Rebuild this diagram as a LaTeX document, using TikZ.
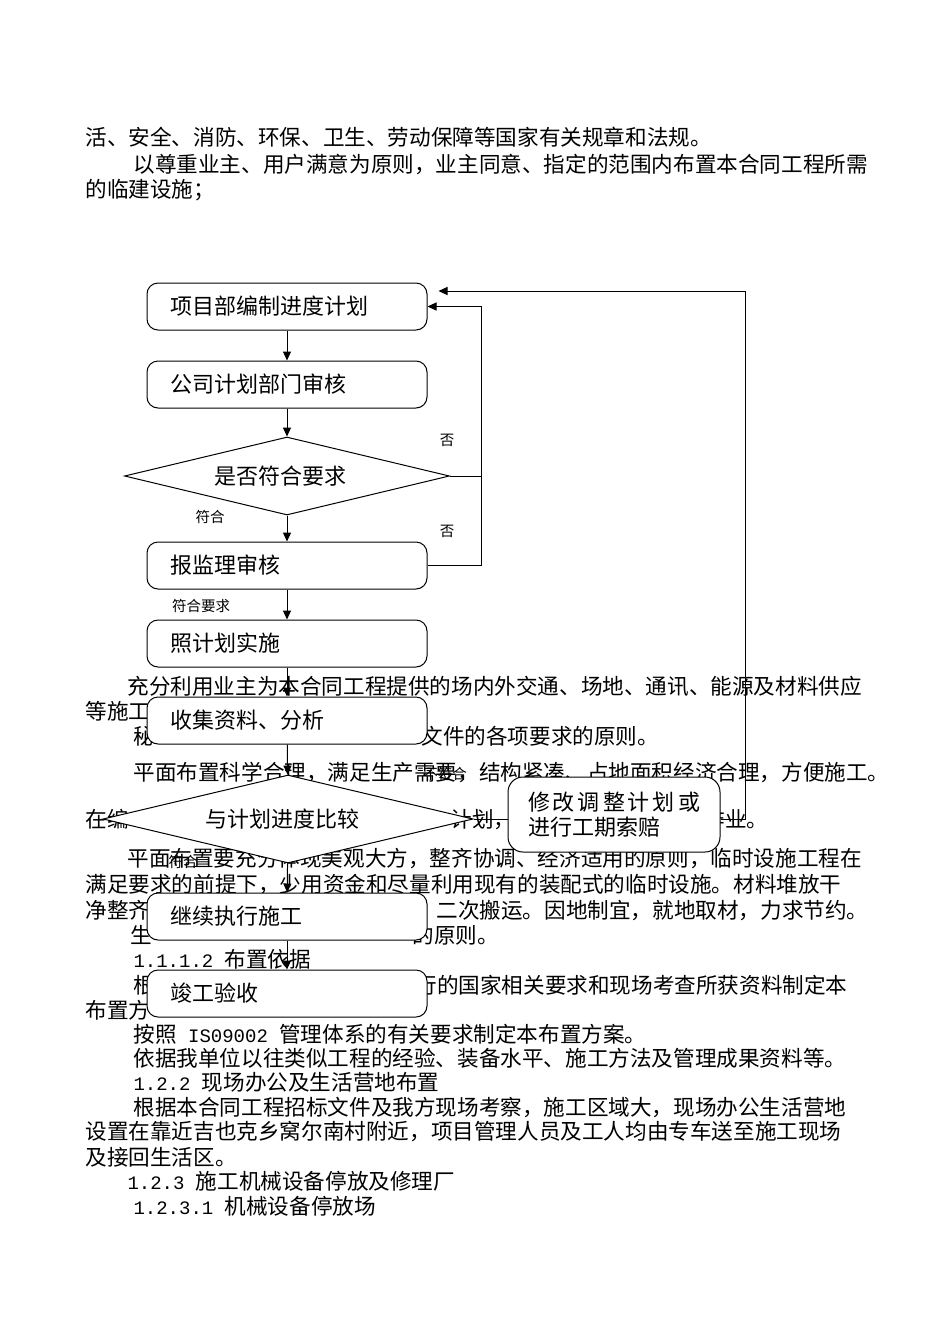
\documentclass[tikz,border=0pt]{standalone}
\usepackage{fontspec}
\usepackage{tikz}
\usetikzlibrary{shapes.geometric,arrows.meta}
\newfontfamily\cjk{Noto Sans CJK SC}
\newfontfamily\asciifont{Liberation Mono}
\newcommand\bodyfont{\cjk\fontsize{21.6}{26}\selectfont}
\newcommand\boxfont{\cjk\fontsize{22}{25}\selectfont}
\newcommand\tagfont{\cjk\fontsize{14.5}{16}\selectfont}
\newcommand\halfw[1]{{\asciifont\fontsize{19}{26}\selectfont #1}}

\begin{document}
\begin{tikzpicture}[x=1pt,y=-1pt,line width=1pt,>={Triangle[length=9pt,width=8pt]},
 body/.style={anchor=west,inner sep=0pt,text height=19pt,text depth=2.6pt,font=\bodyfont},
 box/.style={draw,fill=white,rounded corners=11pt,minimum width=280pt,minimum height=47pt,
  text width=234pt,inner xsep=23pt,inner ysep=0pt,align=left,font=\boxfont},
 decision/.style={draw,fill=white,shape=diamond,inner sep=0pt,aspect=4.2,font=\boxfont},
 tag/.style={inner sep=0pt,font=\tagfont}]
 \useasboundingbox (0,0) rectangle (950,1344);
 \fill[white] (0,0) rectangle (950,1344);
 % page text behind the chart
 \node[body] (t1) at (85,137) {活、安全、消防、环保、卫生、劳动保障等国家有关规章和法规。};
 \node[body] (t2) at (133,164) {以尊重业主、用户满意为原则，业主同意、指定的范围内布置本合同工程所需};
 \node[body] (t3) at (85,189) {的临建设施；};
 \node[body] (t4) at (127,686) {充分利用业主为本合同工程提供的场内外交通、场地、通讯、能源及材料供应};
 \node[body] (t5) at (85,711) {等施工};
 \node[body] (t6a) at (133,736) {秘};
 \node[body] (t6b) at (421,736) {文件的各项要求的原则。};
 \node[body] (t7) at (133,772) {平面布置科学合理，满足生产需要，结构紧凑、占地面积经济合理，方便施工。};
 \node[body] (t8a) at (85,819) {在编};
 \node[body] (t8b) at (450,819) {计划，};
 \node[body] (t8c) at (703,819) {作业。};
 \node[body] (t9) at (127,858) {平面布置要充分体现美观大方，整齐协调、经济适用的原则，临时设施工程在};
 \node[body] (t10) at (85,884) {满足要求的前提下，少用资金和尽量利用现有的装配式的临时设施。材料堆放干};
 \node[body] (t11a) at (85,910) {净整齐};
 \node[body] (t11b) at (436,910) {二次搬运。因地制宜，就地取材，力求节约。};
 \node[body] (t12a) at (130,935) {生};
 \node[body] (t12b) at (412,935) {的原则。};
 \node[body] (t13) at (133,959) {\halfw{1.1.1.2~}布置依据};
 \node[body] (t14a) at (133,985) {根};
 \node[body] (t14b) at (415,985) {行的国家相关要求和现场考查所获资料制定本};
 \node[body] (t15) at (85,1010) {布置方};
 \node[body] (t16) at (133,1034) {按照\halfw{~IS09002~}管理体系的有关要求制定本布置方案。};
 \node[body] (t17) at (133,1058) {依据我单位以往类似工程的经验、装备水平、施工方法及管理成果资料等。};
 \node[body] (t18) at (133,1082) {\halfw{1.2.2~}现场办公及生活营地布置};
 \node[body] (t19) at (133,1107) {根据本合同工程招标文件及我方现场考察，施工区域大，现场办公生活营地};
 \node[body] (t20) at (85,1131) {设置在靠近吉也克乡窝尔南村附近，项目管理人员及工人均由专车送至施工现场};
 \node[body] (t21) at (85,1157) {及接回生活区。};
 \node[body] (t22) at (127,1181) {\halfw{1.2.3~}施工机械设备停放及修理厂};
 \node[body] (t23) at (133,1206) {\halfw{1.2.3.1~}机械设备停放场};
 % flow chart
 \node[box] (plan) at (287,306.5) {项目部编制进度计划};
 \node[box] (check) at (287,384.5) {公司计划部门审核};
 \node[decision,minimum width=325pt,minimum height=78pt] (meet) at (287,476)
  {\hspace*{-14pt}是否符合要求};
 \node[box] (super) at (287,565.5) {报监理审核};
 \node[box] (exec) at (287,643.5) {照计划实施};
 \node[box] (collect) at (287,720.5) {收集资料、分析};
 \node[decision,minimum width=370pt,minimum height=88pt] (compare) at (288,819)
  {\hspace*{-12pt}与计划进度比较};
 \node[box,rounded corners=15pt,minimum width=212pt,minimum height=75pt,text width=172pt,
  inner xsep=20pt] (revise) at (614,814.5)
  {修\kern3pt改\kern3pt调\kern3pt整\kern3pt计\kern3pt划\kern3pt或\\进行工期索赔};
 \node[box] (carry) at (287,916.5) {继续执行施工};
 \node[box] (accept) at (287,993.5) {竣工验收};
 \coordinate (loop) at (745,291);
 \draw[->] (plan) -- (check);
 \draw[->] (check) -- (meet);
 \draw[->] (meet) -- (super);
 \draw[->] (super) -- (exec);
 \draw[->] (exec) -- (collect);
 \draw[->] (collect) -- (compare);
 \draw[->] (compare) -- (carry);
 \draw[->] (carry) -- (accept);
 \draw[->] (meet.east) -| ([xshift=54pt]plan.east) -- (plan.east);
 \draw (super.east) -| ([xshift=54pt]plan.east);
 \draw (compare.east) -- (compare.east -| revise.west);
 \draw[->,shorten >=11pt] (compare.east -| revise.east) -| (loop) -- (plan.east |- loop);
 \node[tag] (no1) at (447,440) {否};
 \node[tag] (no2) at (447,531) {否};
 \node[tag] (yes1) at (210,517) {符合};
 \node[tag] (yes2) at (201,606) {符合要求};
 \node[tag] (no3) at (445,774) {不符合};
 \node[tag] (yes3) at (183,862) {符合};
\end{tikzpicture}
\end{document}
